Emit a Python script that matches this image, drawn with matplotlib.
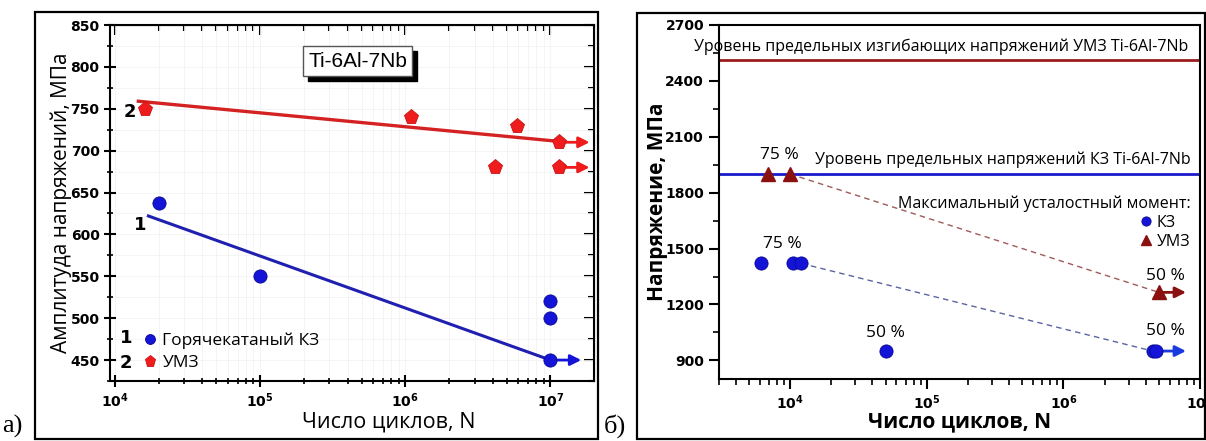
import matplotlib
matplotlib.use("Agg")
import matplotlib.pyplot as plt
from matplotlib.patches import Rectangle
from matplotlib.ticker import LogLocator, MultipleLocator, NullFormatter
import matplotlib.transforms as mtransforms

plt.rcParams['font.family'] = ['Open Sans', 'DejaVu Sans']

# --- panel a) data
kz_n = [2e4, 1e5, 1e7, 1e7, 1e7]
kz_s = [638, 550, 520, 500, 450]
kz_fit_n = [1.7e4, 1e7]
kz_fit_s = [622, 450]
kz_run_n = [1e7]
kz_run_s = [450]
kz_run_tip = 1.63e7

umz_n = [1.6e4, 1.1e6, 4.17e6, 5.9e6, 1.15e7, 1.15e7]
umz_s = [750, 740, 680, 730, 710, 680]
umz_fit_n = [1.45e4, 1.15e7]
umz_fit_s = [759, 711]
umz_run_n = [1.15e7, 1.15e7]
umz_run_s = [710, 680]
umz_run_tip = 1.86e7

# --- panel б) data
level_umz = 2510
level_kz = 1900
b_umz_n = [6.9e3, 1e4, 5e6]
b_umz_s = [1900, 1900, 1265]
b_kz_n = [6.1e3, 1.05e4, 1.21e4, 5e4, 4.5e6, 4.8e6]
b_kz_s = [1420, 1420, 1420, 950, 950, 950]
b_kz_trend_n = [1.21e4, 4.5e6]
b_kz_trend_s = [1420, 950]
b_umz_trend_n = [1e4, 5e6]
b_umz_trend_s = [1900, 1265]
b_run_tip = 7.9e6
pct_labels = ["75 %", "75 %", "50 %", "50 %", "50 %"]
pct_n = [8.3e3, 8.8e3, 5e4, 5.6e6, 5.6e6]
pct_s = [2000, 1527, 1045, 1352, 1057]

blue = '#1414d8'
red = '#ee1c1c'
dred = '#8b1010'

fig = plt.figure(figsize=(12.06, 4.41), dpi=100)

# outer frames
fig.add_artist(Rectangle((35/1206, 2/441), 563/1206, 427/441, transform=fig.transFigure,
                         fill=False, lw=1.6, ec='black'))
fig.add_artist(Rectangle((637/1206, 2/441), 568/1206, 426/441, transform=fig.transFigure,
                         fill=False, lw=1.6, ec='black'))
fig.text(2/1206, 3/441, "а)", fontsize=19, family='Liberation Serif', ha='left', va='bottom')
fig.text(604/1206, 3/441, "б)", fontsize=19, family='Liberation Serif', ha='left', va='bottom')

# ---------------- panel a
ax = fig.add_axes([110/1206, 1-381/441, 484/1206, 356/441])
ax.set_xscale('log')
ax.set_xlim(10**3.966, 10**7.30)
ax.set_ylim(425, 850)
ax.grid(True, which='both', color='#f3f3f3', lw=0.6)
ax.set_axisbelow(True)

ax.plot(umz_fit_n, umz_fit_s, color='#d42222', lw=2.4, zorder=2)
ax.plot(kz_fit_n, kz_fit_s, color='#2020b0', lw=2.2, zorder=2)
for n, s in zip(kz_run_n, kz_run_s):
    ax.annotate('', xy=(kz_run_tip, s), xytext=(n, s),
                arrowprops=dict(arrowstyle='-|>', color=blue, lw=2, mutation_scale=16, shrinkA=0, shrinkB=0))
for n, s in zip(umz_run_n, umz_run_s):
    ax.annotate('', xy=(umz_run_tip, s), xytext=(n, s),
                arrowprops=dict(arrowstyle='-|>', color=red, lw=2, mutation_scale=16, shrinkA=0, shrinkB=0))
h1, = ax.plot(kz_n, kz_s, 'o', ms=9.5, color=blue, mec='#0a0a90', mew=0.6, zorder=4, label='Горячекатаный КЗ')
h2, = ax.plot(umz_n, umz_s, 'p', ms=11, color=red, mec='#cc1010', mew=0.6, zorder=4, label='УМЗ')

ax.text(1.5e4, 611, "1", fontsize=13, fontweight='bold', ha='center', va='center', family='DejaVu Sans')
ax.text(1.27e4, 746, "2", fontsize=13, fontweight='bold', ha='center', va='center', family='DejaVu Sans')

leg = ax.legend(handles=[h1, h2], loc='lower left', bbox_to_anchor=(0.04, -0.015), frameon=False,
                fontsize=12.5, handlelength=0.6, handletextpad=0.4, labelspacing=0.3, markerscale=0.75)
ax.text(0.02, 0.12, "1", transform=ax.transAxes, fontsize=13, fontweight='bold', va='center', family='DejaVu Sans')
ax.text(0.02, 0.05, "2", transform=ax.transAxes, fontsize=13, fontweight='bold', va='center', family='DejaVu Sans')

# title box with shadow
shadow = mtransforms.offset_copy(ax.transData, fig=fig, x=5, y=-5, units='dots')
ax.text(4.7e5, 807, "Ti-6Al-7Nb", fontsize=15, ha='center', va='center', color='black',
        bbox=dict(boxstyle='square,pad=0.25', fc='black', ec='black'), transform=shadow, family='Liberation Sans')
ax.text(4.7e5, 807, "Ti-6Al-7Nb", fontsize=15, ha='center', va='center',
        bbox=dict(boxstyle='square,pad=0.25', fc='white', ec='#555555', lw=1), family='Liberation Sans')

ax.yaxis.set_major_locator(MultipleLocator(50))
ax.yaxis.set_minor_locator(MultipleLocator(25))
ax.xaxis.set_major_locator(LogLocator(base=10, numticks=10))
ax.xaxis.set_minor_locator(LogLocator(base=10, subs=range(2, 10), numticks=20))
ax.xaxis.set_minor_formatter(NullFormatter())
ax.tick_params(which='major', direction='inout', length=8, width=1.5, labelsize=10)
ax.tick_params(which='minor', direction='inout', length=5, width=1.2)
for lab in ax.get_yticklabels() + ax.get_xticklabels():
    lab.set_fontweight('bold')
    lab.set_family('DejaVu Sans')
secx = ax.secondary_xaxis('top')
secx.xaxis.set_minor_locator(LogLocator(base=10, subs=range(2, 10), numticks=20))
secx.tick_params(which='both', direction='in', labeltop=False, width=1.5)
secx.tick_params(which='major', length=7)
secx.tick_params(which='minor', length=4)
secy = ax.secondary_yaxis('right')
secy.yaxis.set_major_locator(MultipleLocator(50))
secy.yaxis.set_minor_locator(MultipleLocator(25))
secy.tick_params(which='both', direction='in', labelright=False, width=1.5)
secy.tick_params(which='major', length=7)
secy.tick_params(which='minor', length=4)
for sp in ax.spines.values():
    sp.set_linewidth(1.5)
ax.set_ylabel("Амплитуда напряжений, МПа", fontsize=15)
ax.yaxis.set_label_coords(-0.078, 0.5)
ax.set_xlabel("Число циклов, N", fontsize=15.5)
ax.xaxis.set_label_coords(0.575, -0.085)

# ---------------- panel б
bx = fig.add_axes([718.7/1206, 1-379/441, 481.3/1206, 354/441])
bx.set_xscale('log')
bx.set_xlim(3000, 1e7)
bx.set_ylim(800, 2700)

bx.axhline(level_umz, color='#9b1c1c', lw=2)
bx.axhline(level_kz, color='#1a1acc', lw=2)
bx.text(0.975, 2584, "Уровень предельных изгибающих напряжений УМЗ Ti-6Al-7Nb", fontsize=11.5,
        ha='right', va='center', transform=bx.get_yaxis_transform())
bx.text(0.98, 1977, "Уровень предельных напряжений КЗ Ti-6Al-7Nb", fontsize=11.5,
        ha='right', va='center', transform=bx.get_yaxis_transform())

bx.plot(b_umz_trend_n, b_umz_trend_s, '--', color='#a05a5a', lw=1, dashes=(4, 3))
bx.plot(b_kz_trend_n, b_kz_trend_s, '--', color='#5a64a0', lw=1, dashes=(4, 3))
bx.annotate('', xy=(b_run_tip, b_kz_s[-1]), xytext=(b_kz_n[-1], b_kz_s[-1]),
            arrowprops=dict(arrowstyle='-|>', color='#1a3ae0', lw=2, mutation_scale=16, shrinkA=0, shrinkB=0))
bx.annotate('', xy=(b_run_tip, b_umz_s[-1]), xytext=(b_umz_n[-1], b_umz_s[-1]),
            arrowprops=dict(arrowstyle='-|>', color=dred, lw=2, mutation_scale=16, shrinkA=0, shrinkB=0))
g1, = bx.plot(b_kz_n, b_kz_s, 'o', ms=9.5, color=blue, mec='#0a0a90', mew=0.6, zorder=4, label='КЗ')
g2, = bx.plot(b_umz_n, b_umz_s, '^', ms=10, color=dred, mec=dred, zorder=4, label='УМЗ')
for t, n, s in zip(pct_labels, pct_n, pct_s):
    bx.text(n, s, t, fontsize=12.5, ha='center', va='center')

leg2 = bx.legend(handles=[g1, g2], title="Максимальный усталостный момент:", loc='upper right',
                 bbox_to_anchor=(1.01, 0.56), frameon=False, fontsize=11.5, title_fontsize=11.5,
                 handlelength=0.6, handletextpad=0.4, labelspacing=0.2, markerscale=0.7, alignment='right')

bx.yaxis.set_major_locator(MultipleLocator(300))
bx.yaxis.set_minor_locator(MultipleLocator(150))
bx.xaxis.set_major_locator(LogLocator(base=10, numticks=10))
bx.xaxis.set_minor_locator(LogLocator(base=10, subs=range(2, 10), numticks=20))
bx.xaxis.set_minor_formatter(NullFormatter())
bx.tick_params(which='major', direction='out', length=7, width=1.5, labelsize=10)
bx.tick_params(which='minor', direction='out', length=4, width=1.2)
for lab in bx.get_yticklabels() + bx.get_xticklabels():
    lab.set_fontweight('bold')
    lab.set_family('DejaVu Sans')
for sp in bx.spines.values():
    sp.set_linewidth(1.5)
bx.set_ylabel("Напряжение, МПа", fontsize=15, fontweight='bold')
bx.yaxis.set_label_coords(-0.105, 0.5)
bx.set_xlabel("Число циклов, N", fontsize=15, fontweight='bold')
bx.xaxis.set_label_coords(0.5, -0.09)

fig.savefig("out.png", dpi=100)
